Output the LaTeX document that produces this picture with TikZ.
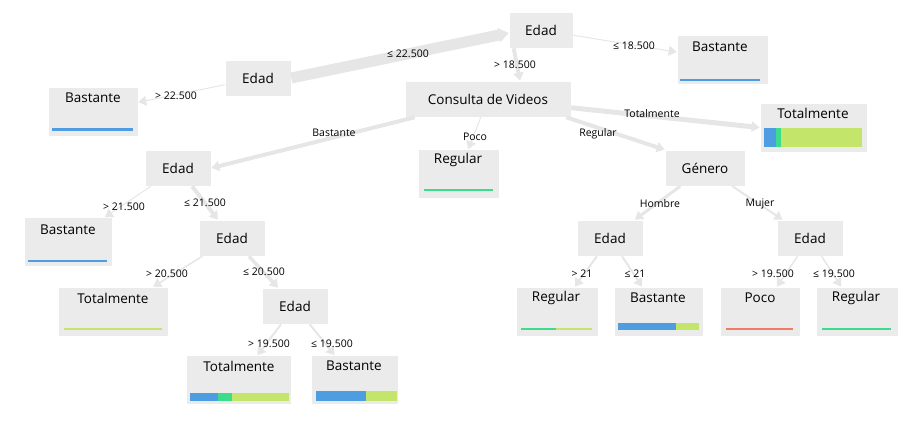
\documentclass[tikz,border=0pt]{standalone}
\usepackage{fontspec}
\setmainfont{Open Sans}
\usetikzlibrary{arrows.meta}
\definecolor{boxc}{HTML}{EBEBEB}
\definecolor{edgec}{HTML}{E6E6E6}
\definecolor{cblue}{HTML}{4E9DE0}
\definecolor{cgreen}{HTML}{3DDC8C}
\definecolor{clight}{HTML}{C2E56A}
\definecolor{cred}{HTML}{F07B6B}
\begin{document}
\begin{tikzpicture}[x=1pt,y=-1pt,
  inner/.style={fill=boxc,draw=white,line width=0.6pt,inner sep=0pt,minimum height=36pt,font=\fontsize{13.5}{15}\selectfont},
  leaf/.style={fill=boxc,draw=white,line width=0.6pt,inner sep=0pt,minimum height=49pt},
  ltext/.style={font=\fontsize{13.5}{15}\selectfont,inner sep=0pt},
  lbl/.style={font=\fontsize{10.5}{12}\selectfont,inner sep=1pt},
  edge/.style={draw=edgec,-{Triangle[length=8pt,width=10pt]}}]
\useasboundingbox (0,0) rectangle (912,421);
% inner nodes
\node[inner,minimum width=64pt] (e1) at (541,30) {Edad};
\node[inner,minimum width=66pt] (e0) at (258,78) {Edad};
\node[inner,minimum width=166pt] (cv) at (488,99) {Consulta de Videos};
\node[inner,minimum width=66pt] (e2) at (178,168) {Edad};
\node[inner,minimum width=80pt] (ge) at (705,168) {Género};
\node[inner,minimum width=66pt] (e3) at (232,238) {Edad};
\node[inner,minimum width=66pt] (eh) at (610,238) {Edad};
\node[inner,minimum width=66pt] (em) at (810,238) {Edad};
\node[inner,minimum width=66pt] (e4) at (295,306) {Edad};
% leaves
\node[leaf,minimum width=91pt] (l1) at (722.5,59.5) {};
\node[leaf,minimum width=90pt] (l2) at (93,111.5) {};
\node[leaf,minimum width=107pt] (l3) at (813.5,127.5) {};
\node[leaf,minimum width=81pt] (l4) at (458.5,174) {};
\node[leaf,minimum width=88pt] (l5) at (68,242) {};
\node[leaf,minimum width=110pt] (l6) at (113,311.5) {};
\node[leaf,minimum width=82pt] (l7) at (557,311.5) {};
\node[leaf,minimum width=89pt] (l8) at (658.5,311.5) {};
\node[leaf,minimum width=80pt] (l9) at (760,311.5) {};
\node[leaf,minimum width=82pt] (l10) at (857,311.5) {};
\node[leaf,minimum width=105pt] (l11) at (238.5,380) {};
\node[leaf,minimum width=87pt] (l12) at (354.5,380) {};
% leaf texts
\node[ltext] (t1) at (720,47) {Bastante};
\node[ltext] (t2) at (93,98) {Bastante};
\node[ltext] (t3) at (813,113) {Totalmente};
\node[ltext] (t4) at (458,160) {Regular};
\node[ltext] (t5) at (68,230) {Bastante};
\node[ltext] (t6) at (113,298) {Totalmente};
\node[ltext] (t7) at (556,298) {Regular};
\node[ltext] (t8) at (658,298) {Bastante};
\node[ltext] (t9) at (760,298) {Poco};
\node[ltext] (t10) at (856,298) {Regular};
\node[ltext] (t11) at (239,366) {Totalmente};
\node[ltext] (t12) at (354,366) {Bastante};
% bars
\fill[cblue] (680,79) rectangle (760,81);
\fill[cblue] (52,128) rectangle (133,131);
\fill[cblue] (764,128) rectangle (776,147);
\fill[cgreen] (776,128) rectangle (781,147);
\fill[clight] (781,128) rectangle (862,147);
\fill[cgreen] (424,189) rectangle (493,191);
\fill[cblue] (28,260) rectangle (107,262);
\fill[clight] (64,328) rectangle (162,330);
\fill[cgreen] (521,328) rectangle (556,330);
\fill[clight] (556,328) rectangle (592,330);
\fill[cblue] (618,323) rectangle (676,330);
\fill[clight] (676,323) rectangle (699,330);
\fill[cred] (726,328) rectangle (793,330);
\fill[cgreen] (822,328) rectangle (891,330);
\fill[cblue] (190,393) rectangle (218,401);
\fill[cgreen] (218,393) rectangle (232,401);
\fill[clight] (232,393) rectangle (289,401);
\fill[cblue] (316,391) rectangle (366,401);
\fill[clight] (366,391) rectangle (397,401);
% edges
\draw[edge,line width=11pt,-{Triangle[length=10pt,width=14pt]}] (e0.east) -- (e1.west |- 0,33);
\draw[edge,line width=1pt] (e0) -- (l2);
\draw[edge,line width=1pt] (e1) -- (l1);
\draw[edge,line width=4pt] (e1.south west) ++(5,0) -- (cv.north -| 520,0);
\draw[edge,line width=5pt] (cv) -- (l3.west);
\draw[edge,line width=1pt] (cv) -- (l4);
\draw[edge,line width=4pt] (cv.south west) ++(10,0) -- (e2.east);
\draw[edge,line width=4pt] (cv.south east) ++(-5,0) -- (ge.north west);
\draw[edge,line width=1pt] (e2) -- (l5);
\draw[edge,line width=4pt] (e2) -- (e3);
\draw[edge,line width=1.5pt] (e3) -- (l6);
\draw[edge,line width=3.5pt] (e3) -- (e4);
\draw[edge,line width=2pt] (e4) -- (l11);
\draw[edge,line width=2pt] (e4) -- (l12);
\draw[edge,line width=3pt] (ge) -- (eh);
\draw[edge,line width=2pt] (ge) -- (em);
\draw[edge,line width=2pt] (eh) -- (l7);
\draw[edge,line width=2pt] (eh) -- (l8);
\draw[edge,line width=1.5pt] (em) -- (l9);
\draw[edge,line width=1.5pt] (em) -- (l10);
% labels
\node[lbl] (a1) at (408,54) {≤ 22.500};
\node[lbl] (a2) at (176,96) {> 22.500};
\node[lbl] (a3) at (515,65) {> 18.500};
\node[lbl] (a4) at (634,46) {≤ 18.500};
\node[lbl] (a5) at (652,114) {Totalmente};
\node[lbl] (a6) at (475,137) {Poco};
\node[lbl] (a7) at (334,133) {Bastante};
\node[lbl] (a8) at (598,134) {Regular};
\node[lbl] (a9) at (660,204) {Hombre};
\node[lbl] (a10) at (760,204) {Mujer};
\node[lbl] (a11) at (124,207) {> 21.500};
\node[lbl] (a12) at (205,203) {≤ 21.500};
\node[lbl] (a13) at (167,274) {> 20.500};
\node[lbl] (a14) at (264,272) {≤ 20.500};
\node[lbl] (a15) at (269,344) {> 19.500};
\node[lbl] (a16) at (332,344) {≤ 19.500};
\node[lbl] (a17) at (582,274) {> 21};
\node[lbl] (a18) at (635,274) {≤ 21};
\node[lbl] (a19) at (773,274) {> 19.500};
\node[lbl] (a20) at (834,274) {≤ 19.500};
\end{tikzpicture}
\end{document}
